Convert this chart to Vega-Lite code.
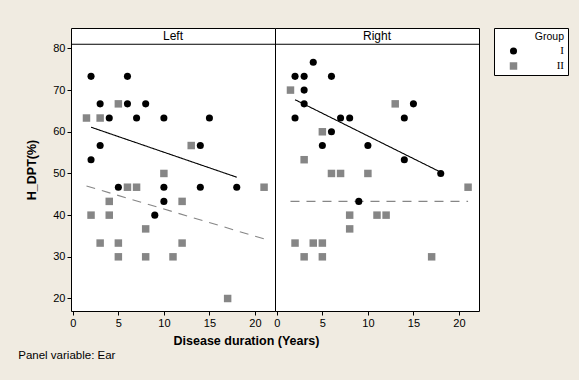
{
  "$schema": "https://vega.github.io/schema/vega-lite/v6.json",
  "background": "#f0ebe1",
  "padding": {"left": 18, "top": 27, "right": 14, "bottom": 18},
  "bounds": "flush",
  "spacing": 0,
  "data": {"values": [
    {"Ear":"Left","Group":"II","kind":"obs","Duration":1.5,"HDPT":63.3},
    {"Ear":"Left","Group":"II","kind":"obs","Duration":3,"HDPT":63.3},
    {"Ear":"Left","Group":"II","kind":"obs","Duration":5,"HDPT":66.7},
    {"Ear":"Left","Group":"II","kind":"obs","Duration":13,"HDPT":56.7},
    {"Ear":"Left","Group":"II","kind":"obs","Duration":10,"HDPT":50},
    {"Ear":"Left","Group":"II","kind":"obs","Duration":6,"HDPT":46.7},
    {"Ear":"Left","Group":"II","kind":"obs","Duration":7,"HDPT":46.7},
    {"Ear":"Left","Group":"II","kind":"obs","Duration":21,"HDPT":46.7},
    {"Ear":"Left","Group":"II","kind":"obs","Duration":4,"HDPT":43.3},
    {"Ear":"Left","Group":"II","kind":"obs","Duration":12,"HDPT":43.3},
    {"Ear":"Left","Group":"II","kind":"obs","Duration":2,"HDPT":40},
    {"Ear":"Left","Group":"II","kind":"obs","Duration":4,"HDPT":40},
    {"Ear":"Left","Group":"II","kind":"obs","Duration":8,"HDPT":36.7},
    {"Ear":"Left","Group":"II","kind":"obs","Duration":3,"HDPT":33.3},
    {"Ear":"Left","Group":"II","kind":"obs","Duration":5,"HDPT":33.3},
    {"Ear":"Left","Group":"II","kind":"obs","Duration":12,"HDPT":33.3},
    {"Ear":"Left","Group":"II","kind":"obs","Duration":5,"HDPT":30},
    {"Ear":"Left","Group":"II","kind":"obs","Duration":8,"HDPT":30},
    {"Ear":"Left","Group":"II","kind":"obs","Duration":11,"HDPT":30},
    {"Ear":"Left","Group":"II","kind":"obs","Duration":17,"HDPT":20},
    {"Ear":"Left","Group":"I","kind":"obs","Duration":2,"HDPT":73.3},
    {"Ear":"Left","Group":"I","kind":"obs","Duration":6,"HDPT":73.3},
    {"Ear":"Left","Group":"I","kind":"obs","Duration":3,"HDPT":66.7},
    {"Ear":"Left","Group":"I","kind":"obs","Duration":6,"HDPT":66.7},
    {"Ear":"Left","Group":"I","kind":"obs","Duration":8,"HDPT":66.7},
    {"Ear":"Left","Group":"I","kind":"obs","Duration":4,"HDPT":63.3},
    {"Ear":"Left","Group":"I","kind":"obs","Duration":7,"HDPT":63.3},
    {"Ear":"Left","Group":"I","kind":"obs","Duration":10,"HDPT":63.3},
    {"Ear":"Left","Group":"I","kind":"obs","Duration":15,"HDPT":63.3},
    {"Ear":"Left","Group":"I","kind":"obs","Duration":3,"HDPT":56.7},
    {"Ear":"Left","Group":"I","kind":"obs","Duration":14,"HDPT":56.7},
    {"Ear":"Left","Group":"I","kind":"obs","Duration":2,"HDPT":53.3},
    {"Ear":"Left","Group":"I","kind":"obs","Duration":5,"HDPT":46.7},
    {"Ear":"Left","Group":"I","kind":"obs","Duration":10,"HDPT":46.7},
    {"Ear":"Left","Group":"I","kind":"obs","Duration":14,"HDPT":46.7},
    {"Ear":"Left","Group":"I","kind":"obs","Duration":18,"HDPT":46.7},
    {"Ear":"Left","Group":"I","kind":"obs","Duration":10,"HDPT":43.3},
    {"Ear":"Left","Group":"I","kind":"obs","Duration":9,"HDPT":40},
    {"Ear":"Right","Group":"II","kind":"obs","Duration":1.5,"HDPT":70},
    {"Ear":"Right","Group":"II","kind":"obs","Duration":13,"HDPT":66.7},
    {"Ear":"Right","Group":"II","kind":"obs","Duration":5,"HDPT":60},
    {"Ear":"Right","Group":"II","kind":"obs","Duration":3,"HDPT":53.3},
    {"Ear":"Right","Group":"II","kind":"obs","Duration":6,"HDPT":50},
    {"Ear":"Right","Group":"II","kind":"obs","Duration":7,"HDPT":50},
    {"Ear":"Right","Group":"II","kind":"obs","Duration":10,"HDPT":50},
    {"Ear":"Right","Group":"II","kind":"obs","Duration":21,"HDPT":46.7},
    {"Ear":"Right","Group":"II","kind":"obs","Duration":8,"HDPT":40},
    {"Ear":"Right","Group":"II","kind":"obs","Duration":11,"HDPT":40},
    {"Ear":"Right","Group":"II","kind":"obs","Duration":12,"HDPT":40},
    {"Ear":"Right","Group":"II","kind":"obs","Duration":8,"HDPT":36.7},
    {"Ear":"Right","Group":"II","kind":"obs","Duration":2,"HDPT":33.3},
    {"Ear":"Right","Group":"II","kind":"obs","Duration":4,"HDPT":33.3},
    {"Ear":"Right","Group":"II","kind":"obs","Duration":5,"HDPT":33.3},
    {"Ear":"Right","Group":"II","kind":"obs","Duration":3,"HDPT":30},
    {"Ear":"Right","Group":"II","kind":"obs","Duration":5,"HDPT":30},
    {"Ear":"Right","Group":"II","kind":"obs","Duration":17,"HDPT":30},
    {"Ear":"Right","Group":"I","kind":"obs","Duration":4,"HDPT":76.7},
    {"Ear":"Right","Group":"I","kind":"obs","Duration":2,"HDPT":73.3},
    {"Ear":"Right","Group":"I","kind":"obs","Duration":3,"HDPT":73.3},
    {"Ear":"Right","Group":"I","kind":"obs","Duration":6,"HDPT":73.3},
    {"Ear":"Right","Group":"I","kind":"obs","Duration":3,"HDPT":70},
    {"Ear":"Right","Group":"I","kind":"obs","Duration":3,"HDPT":66.7},
    {"Ear":"Right","Group":"I","kind":"obs","Duration":15,"HDPT":66.7},
    {"Ear":"Right","Group":"I","kind":"obs","Duration":2,"HDPT":63.3},
    {"Ear":"Right","Group":"I","kind":"obs","Duration":7,"HDPT":63.3},
    {"Ear":"Right","Group":"I","kind":"obs","Duration":8,"HDPT":63.3},
    {"Ear":"Right","Group":"I","kind":"obs","Duration":14,"HDPT":63.3},
    {"Ear":"Right","Group":"I","kind":"obs","Duration":6,"HDPT":60},
    {"Ear":"Right","Group":"I","kind":"obs","Duration":5,"HDPT":56.7},
    {"Ear":"Right","Group":"I","kind":"obs","Duration":10,"HDPT":56.7},
    {"Ear":"Right","Group":"I","kind":"obs","Duration":14,"HDPT":53.3},
    {"Ear":"Right","Group":"I","kind":"obs","Duration":18,"HDPT":50},
    {"Ear":"Right","Group":"I","kind":"obs","Duration":9,"HDPT":43.3},
    {"Ear":"Left","Group":"I","kind":"fit","Duration":2,"HDPT":61.1},
    {"Ear":"Left","Group":"I","kind":"fit","Duration":18,"HDPT":49.1},
    {"Ear":"Left","Group":"II","kind":"fit","Duration":1.5,"HDPT":47.0},
    {"Ear":"Left","Group":"II","kind":"fit","Duration":21,"HDPT":34.3},
    {"Ear":"Right","Group":"I","kind":"fit","Duration":2,"HDPT":67.7},
    {"Ear":"Right","Group":"I","kind":"fit","Duration":18,"HDPT":50.3},
    {"Ear":"Right","Group":"II","kind":"fit","Duration":1.5,"HDPT":43.3},
    {"Ear":"Right","Group":"II","kind":"fit","Duration":21,"HDPT":43.3}
  ]},
  "title": {"text": "Panel variable: Ear", "orient": "bottom", "anchor": "start", "frame": "bounds", "font": "Liberation Sans", "fontSize": 11.5, "fontWeight": "normal", "color": "black", "offset": 3, "dx": -7},
  "resolve": {"scale": {"x": "shared", "y": "shared", "color": "shared", "shape": "shared", "size": "shared", "strokeDash": "shared"}},
  "hconcat": [
    {
      "width": 204, "height": 283,
      "transform": [{"filter": "datum.Ear === 'Left'"}],
      "layer": [
        {
          "transform": [{"filter": "datum.kind === 'fit'"}],
          "mark": {"type": "line", "strokeWidth": 1.1},
          "encoding": {
            "x": {"field": "Duration", "type": "quantitative", "scale": {"domain": [-0.2, 22.2], "nice": false, "zero": false}, "axis": {"values": [0, 5, 10, 15, 20], "title": "Disease duration (Years)", "titleX": 175, "titlePadding": 6}},
            "y": {"field": "HDPT", "type": "quantitative", "scale": {"domain": [17, 84.9], "nice": false, "zero": false}, "axis": {"values": [20, 30, 40, 50, 60, 70, 80], "title": "H_DPT(%)", "titlePadding": 14}},
            "color": {"field": "Group", "type": "nominal", "title": "Group", "scale": {"domain": ["I", "II"], "range": ["#000000", "#868686"]}},
            "strokeDash": {"field": "Group", "type": "nominal", "title": "Group", "scale": {"domain": ["I", "II"], "range": [[1, 0], [9, 7]]}}
          }
        },
        {
          "transform": [{"filter": "datum.kind === 'obs'"}],
          "mark": {"type": "point", "filled": true, "opacity": 1, "strokeWidth": 0},
          "encoding": {
            "x": {"field": "Duration", "type": "quantitative"},
            "y": {"field": "HDPT", "type": "quantitative"},
            "color": {"field": "Group", "type": "nominal", "title": "Group"},
            "shape": {"field": "Group", "type": "nominal", "title": "Group", "scale": {"domain": ["I", "II"], "range": ["circle", "square"]}},
            "size": {"field": "Group", "type": "nominal", "title": "Group", "scale": {"domain": ["I", "II"], "range": [50, 56]}}
          }
        },
        {
          "transform": [{"aggregate": [{"op": "count", "as": "n"}], "groupby": ["Ear"]}],
          "layer": [
            {"mark": {"type": "rule", "color": "black", "strokeWidth": 1}, "encoding": {"y": {"datum": 81}}},
            {"mark": {"type": "text", "font": "Liberation Sans", "fontSize": 12, "color": "black", "baseline": "middle"}, "encoding": {"x": {"datum": 11}, "y": {"datum": 82.95}, "text": {"field": "Ear"}}}
          ]
        }
      ]
    },
    {
      "width": 204, "height": 283,
      "transform": [{"filter": "datum.Ear === 'Right'"}],
      "layer": [
        {
          "transform": [{"filter": "datum.kind === 'fit'"}],
          "mark": {"type": "line", "strokeWidth": 1.1},
          "encoding": {
            "x": {"field": "Duration", "type": "quantitative", "scale": {"domain": [-0.2, 22.2], "nice": false, "zero": false}, "axis": {"values": [0, 5, 10, 15, 20], "title": null}},
            "y": {"field": "HDPT", "type": "quantitative", "scale": {"domain": [17, 84.9], "nice": false, "zero": false}, "axis": null},
            "color": {"field": "Group", "type": "nominal", "title": "Group"},
            "strokeDash": {"field": "Group", "type": "nominal", "title": "Group"}
          }
        },
        {
          "transform": [{"filter": "datum.kind === 'obs'"}],
          "mark": {"type": "point", "filled": true, "opacity": 1, "strokeWidth": 0},
          "encoding": {
            "x": {"field": "Duration", "type": "quantitative"},
            "y": {"field": "HDPT", "type": "quantitative"},
            "color": {"field": "Group", "type": "nominal", "title": "Group"},
            "shape": {"field": "Group", "type": "nominal", "title": "Group"},
            "size": {"field": "Group", "type": "nominal", "title": "Group"}
          }
        },
        {
          "transform": [{"aggregate": [{"op": "count", "as": "n"}], "groupby": ["Ear"]}],
          "layer": [
            {"mark": {"type": "rule", "color": "black", "strokeWidth": 1}, "encoding": {"y": {"datum": 81}}},
            {"mark": {"type": "text", "font": "Liberation Sans", "fontSize": 12, "color": "black", "baseline": "middle"}, "encoding": {"x": {"datum": 11}, "y": {"datum": 82.95}, "text": {"field": "Ear"}}}
          ]
        }
      ]
    }
  ],
  "config": {
    "view": {"stroke": "black", "strokeWidth": 1, "fill": "white"},
    "axis": {"grid": false, "domain": false, "tickColor": "black", "tickSize": 4, "labelFont": "Liberation Sans", "labelFontSize": 11, "labelColor": "black", "labelPadding": 2, "titleFont": "Liberation Sans", "titleFontSize": 12.5, "titleFontWeight": "bold", "titleColor": "black"},
    "legend": {
      "orient": "right", "offset": 14, "padding": 4, "strokeColor": "black", "fillColor": "white",
      "titleFont": "Liberation Sans", "titleFontSize": 10.5, "titleFontWeight": "normal", "titleColor": "black", "titleAnchor": "end", "titlePadding": 3,
      "labelFont": "Liberation Serif", "labelFontSize": 11, "labelColor": "black", "labelAlign": "right", "labelOffset": 45,
      "symbolOffset": 10, "rowPadding": 3,
      "symbolStrokeWidth": 0
    }
  }
}
